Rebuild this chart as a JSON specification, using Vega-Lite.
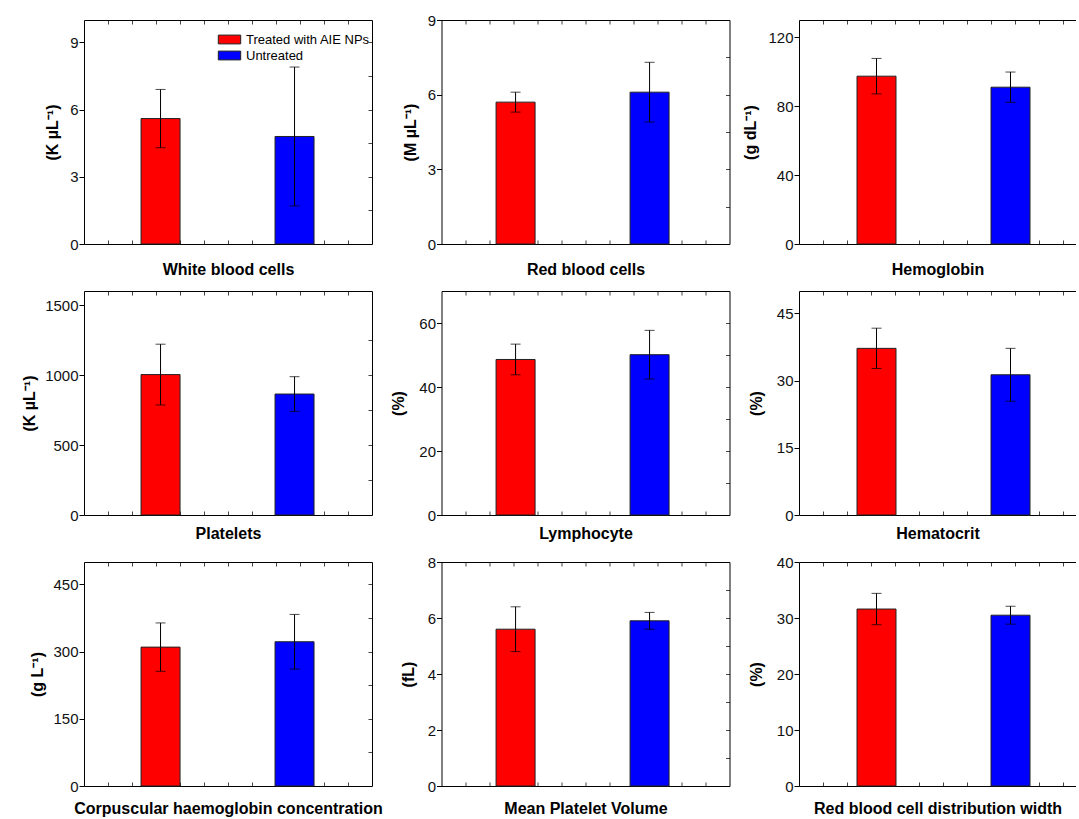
{
  "$schema": "https://vega.github.io/schema/vega-lite/v6.json",
  "padding": {"left": 21, "top": 13, "right": 0, "bottom": 0},
  "config": {
    "view": {"stroke": null},
    "font": "Liberation Sans",
    "axis": {"grid": false, "domainColor": "#000", "tickColor": "#000", "labelFont": "Liberation Sans", "labelFontSize": 15, "labelColor": "#111", "titleFont": "Liberation Sans", "titleFontSize": 16, "titleFontWeight": "bold", "titleColor": "#000", "domainWidth": 1, "tickWidth": 1, "tickSize": 5, "labelPadding": 1, "titlePadding": 9},
    "legend": {"labelFont": "Liberation Sans"}
  },
  "data": {"values": [
    {"panel": "White blood cells", "group": "Treated with AIE NPs", "mean": 5.6, "lo": 4.3, "hi": 6.9},
    {"panel": "White blood cells", "group": "Untreated", "mean": 4.8, "lo": 1.7, "hi": 7.9},
    {"panel": "Red blood cells", "group": "Treated with AIE NPs", "mean": 5.7, "lo": 5.3, "hi": 6.1},
    {"panel": "Red blood cells", "group": "Untreated", "mean": 6.1, "lo": 4.9, "hi": 7.3},
    {"panel": "Hemoglobin", "group": "Treated with AIE NPs", "mean": 97.4, "lo": 87.1, "hi": 107.7},
    {"panel": "Hemoglobin", "group": "Untreated", "mean": 91.0, "lo": 82.2, "hi": 99.8},
    {"panel": "Platelets", "group": "Treated with AIE NPs", "mean": 1003, "lo": 786, "hi": 1220},
    {"panel": "Platelets", "group": "Untreated", "mean": 864, "lo": 740, "hi": 988},
    {"panel": "Lymphocyte", "group": "Treated with AIE NPs", "mean": 48.6, "lo": 43.8, "hi": 53.4},
    {"panel": "Lymphocyte", "group": "Untreated", "mean": 50.1, "lo": 42.5, "hi": 57.7},
    {"panel": "Hematocrit", "group": "Treated with AIE NPs", "mean": 37.2, "lo": 32.7, "hi": 41.7},
    {"panel": "Hematocrit", "group": "Untreated", "mean": 31.3, "lo": 25.4, "hi": 37.2},
    {"panel": "Corpuscular haemoglobin concentration", "group": "Treated with AIE NPs", "mean": 310, "lo": 256, "hi": 364},
    {"panel": "Corpuscular haemoglobin concentration", "group": "Untreated", "mean": 322, "lo": 261, "hi": 383},
    {"panel": "Mean Platelet Volume", "group": "Treated with AIE NPs", "mean": 5.6, "lo": 4.8, "hi": 6.4},
    {"panel": "Mean Platelet Volume", "group": "Untreated", "mean": 5.9, "lo": 5.6, "hi": 6.2},
    {"panel": "Red blood cell distribution width", "group": "Treated with AIE NPs", "mean": 31.6, "lo": 28.8, "hi": 34.4},
    {"panel": "Red blood cell distribution width", "group": "Untreated", "mean": 30.5, "lo": 28.9, "hi": 32.1}
  ]},
  "columns": 3,
  "bounds": "flush",
  "spacing": {"row": 47, "column": 69.5},
  "resolve": {"scale": {"color": "independent"}, "legend": {"color": "independent"}},
  "concat": [
    {
      "width": 288, "height": 224,
      "transform": [{"filter": "datum.panel === 'White blood cells'"}],
      "layer": [
        {"mark": {"type": "bar", "size": 39, "stroke": "#222", "strokeWidth": 1},
         "encoding": {
           "x": {"field": "group", "type": "nominal", "scale": {"type": "point", "domain": ["Treated with AIE NPs", "Untreated"], "padding": 0.5746, "align": 0.497}, "axis": null},
           "y": {"field": "mean", "type": "quantitative", "scale": {"domain": [0, 10]}, "axis": {"values": [0, 3, 6, 9], "title": "(K µL⁻¹)"}},
           "color": {"field": "group", "type": "nominal", "scale": {"domain": ["Treated with AIE NPs", "Untreated"], "range": ["#ff0000", "#0000ff"]},
             "legend": {"orient": "none", "legendX": 137, "legendY": 11, "title": null, "symbolType": "M-1.4,-0.55H1.4V0.55H-1.4Z", "symbolSize": 256, "symbolStrokeColor": "#222", "symbolStrokeWidth": 1, "symbolOpacity": 1, "labelFontSize": 13, "labelColor": "#000", "labelOffset": 8, "rowPadding": 0, "padding": 0, "labelLimit": 300}}
         }},
        {"mark": {"type": "rule", "color": "#000", "strokeWidth": 1},
         "encoding": {"x": {"field": "group", "type": "nominal", "scale": {"type": "point", "domain": ["Treated with AIE NPs", "Untreated"], "padding": 0.5746, "align": 0.497}, "axis": null}, "y": {"field": "lo", "type": "quantitative", "axis": null}, "y2": {"field": "hi"}}},
        {"mark": {"type": "tick", "orient": "horizontal", "size": 10, "thickness": 1, "color": "#000"},
         "encoding": {"x": {"field": "group", "type": "nominal", "scale": {"type": "point", "domain": ["Treated with AIE NPs", "Untreated"], "padding": 0.5746, "align": 0.497}, "axis": null}, "y": {"field": "lo", "type": "quantitative", "axis": null}}},
        {"mark": {"type": "tick", "orient": "horizontal", "size": 10, "thickness": 1, "color": "#000"},
         "encoding": {"x": {"field": "group", "type": "nominal", "scale": {"type": "point", "domain": ["Treated with AIE NPs", "Untreated"], "padding": 0.5746, "align": 0.497}, "axis": null}, "y": {"field": "hi", "type": "quantitative", "axis": null}}},
        {"mark": {"type": "point", "opacity": 0},
         "encoding": {
           "x": {"datum": 0, "type": "quantitative", "scale": {"domain": [0, 12]}, "axis": {"orient": "bottom", "values": [1,2,3,4,5,6,7,8,9,10,11], "labels": false, "tickSize": -4, "tickColor": "#444", "title": "White blood cells", "titlePadding": 17}},
           "y": {"datum": 0, "type": "quantitative", "axis": {"orient": "right", "values": [1.5, 3, 4.5, 6, 7.5, 9], "labels": false, "tickSize": -4, "tickColor": "#444", "title": null}}}},
        {"mark": {"type": "point", "opacity": 0},
         "encoding": {
           "x": {"datum": 0, "type": "quantitative", "scale": {"domain": [0, 12]}, "axis": {"orient": "top", "values": [1,2,3,4,5,6,7,8,9,10,11], "labels": false, "tickSize": -4, "tickColor": "#444", "title": null}},
           "y": {"datum": 0, "type": "quantitative", "axis": null}}}
      ],
      "resolve": {"scale": {"x": "independent"}, "axis": {"x": "independent", "y": "independent"}}
    },
    {
      "width": 288, "height": 224,
      "transform": [{"filter": "datum.panel === 'Red blood cells'"}],
      "layer": [
        {"mark": {"type": "bar", "size": 39, "stroke": "#222", "strokeWidth": 1},
         "encoding": {
           "x": {"field": "group", "type": "nominal", "scale": {"type": "point", "domain": ["Treated with AIE NPs", "Untreated"], "padding": 0.5746, "align": 0.481}, "axis": null},
           "y": {"field": "mean", "type": "quantitative", "scale": {"domain": [0, 9]}, "axis": {"values": [0, 3, 6, 9], "title": "(M µL⁻¹)"}},
           "color": {"field": "group", "type": "nominal", "scale": {"domain": ["Treated with AIE NPs", "Untreated"], "range": ["#ff0000", "#0000ff"]}, "legend": null}
         }},
        {"mark": {"type": "rule", "color": "#000", "strokeWidth": 1},
         "encoding": {"x": {"field": "group", "type": "nominal", "scale": {"type": "point", "domain": ["Treated with AIE NPs", "Untreated"], "padding": 0.5746, "align": 0.481}, "axis": null}, "y": {"field": "lo", "type": "quantitative", "axis": null}, "y2": {"field": "hi"}}},
        {"mark": {"type": "tick", "orient": "horizontal", "size": 10, "thickness": 1, "color": "#000"},
         "encoding": {"x": {"field": "group", "type": "nominal", "scale": {"type": "point", "domain": ["Treated with AIE NPs", "Untreated"], "padding": 0.5746, "align": 0.481}, "axis": null}, "y": {"field": "lo", "type": "quantitative", "axis": null}}},
        {"mark": {"type": "tick", "orient": "horizontal", "size": 10, "thickness": 1, "color": "#000"},
         "encoding": {"x": {"field": "group", "type": "nominal", "scale": {"type": "point", "domain": ["Treated with AIE NPs", "Untreated"], "padding": 0.5746, "align": 0.481}, "axis": null}, "y": {"field": "hi", "type": "quantitative", "axis": null}}},
        {"mark": {"type": "point", "opacity": 0},
         "encoding": {
           "x": {"datum": 0, "type": "quantitative", "scale": {"domain": [0, 12]}, "axis": {"orient": "bottom", "values": [1,2,3,4,5,6,7,8,9,10,11], "labels": false, "tickSize": -4, "tickColor": "#444", "title": "Red blood cells", "titlePadding": 17}},
           "y": {"datum": 0, "type": "quantitative", "axis": {"orient": "right", "values": [1.5, 3, 4.5, 6, 7.5], "labels": false, "tickSize": -4, "tickColor": "#444", "title": null}}}},
        {"mark": {"type": "point", "opacity": 0},
         "encoding": {
           "x": {"datum": 0, "type": "quantitative", "scale": {"domain": [0, 12]}, "axis": {"orient": "top", "values": [1,2,3,4,5,6,7,8,9,10,11], "labels": false, "tickSize": -4, "tickColor": "#444", "title": null}},
           "y": {"datum": 0, "type": "quantitative", "axis": null}}}
      ],
      "resolve": {"scale": {"x": "independent"}, "axis": {"x": "independent", "y": "independent"}}
    },
    {
      "width": 277, "height": 224,
      "transform": [{"filter": "datum.panel === 'Hemoglobin'"}],
      "layer": [
        {"mark": {"type": "bar", "size": 39, "stroke": "#222", "strokeWidth": 1},
         "encoding": {
           "x": {"field": "group", "type": "nominal", "scale": {"type": "point", "domain": ["Treated with AIE NPs", "Untreated"], "padding": 0.5336, "align": 0.542}, "axis": null},
           "y": {"field": "mean", "type": "quantitative", "scale": {"domain": [0, 130]}, "axis": {"values": [0, 40, 80, 120], "title": "(g dL⁻¹)"}},
           "color": {"field": "group", "type": "nominal", "scale": {"domain": ["Treated with AIE NPs", "Untreated"], "range": ["#ff0000", "#0000ff"]}, "legend": null}
         }},
        {"mark": {"type": "rule", "color": "#000", "strokeWidth": 1},
         "encoding": {"x": {"field": "group", "type": "nominal", "scale": {"type": "point", "domain": ["Treated with AIE NPs", "Untreated"], "padding": 0.5336, "align": 0.542}, "axis": null}, "y": {"field": "lo", "type": "quantitative", "axis": null}, "y2": {"field": "hi"}}},
        {"mark": {"type": "tick", "orient": "horizontal", "size": 10, "thickness": 1, "color": "#000"},
         "encoding": {"x": {"field": "group", "type": "nominal", "scale": {"type": "point", "domain": ["Treated with AIE NPs", "Untreated"], "padding": 0.5336, "align": 0.542}, "axis": null}, "y": {"field": "lo", "type": "quantitative", "axis": null}}},
        {"mark": {"type": "tick", "orient": "horizontal", "size": 10, "thickness": 1, "color": "#000"},
         "encoding": {"x": {"field": "group", "type": "nominal", "scale": {"type": "point", "domain": ["Treated with AIE NPs", "Untreated"], "padding": 0.5336, "align": 0.542}, "axis": null}, "y": {"field": "hi", "type": "quantitative", "axis": null}}},
        {"mark": {"type": "point", "opacity": 0},
         "encoding": {
           "x": {"datum": 0, "type": "quantitative", "scale": {"domain": [0, 11.5417]}, "axis": {"orient": "bottom", "values": [1,2,3,4,5,6,7,8,9,10,11], "labels": false, "tickSize": -4, "tickColor": "#444", "title": "Hemoglobin", "titlePadding": 17}},
           "y": {"datum": 0, "type": "quantitative", "axis": null}}},
        {"mark": {"type": "point", "opacity": 0},
         "encoding": {
           "x": {"datum": 0, "type": "quantitative", "scale": {"domain": [0, 11.5417]}, "axis": {"orient": "top", "values": [1,2,3,4,5,6,7,8,9,10,11], "labels": false, "tickSize": -4, "tickColor": "#444", "title": null}},
           "y": {"datum": 0, "type": "quantitative", "axis": null}}}
      ],
      "resolve": {"scale": {"x": "independent"}, "axis": {"x": "independent", "y": "independent"}}
    },
    {
      "width": 288, "height": 224,
      "transform": [{"filter": "datum.panel === 'Platelets'"}],
      "layer": [
        {"mark": {"type": "bar", "size": 39, "stroke": "#222", "strokeWidth": 1},
         "encoding": {
           "x": {"field": "group", "type": "nominal", "scale": {"type": "point", "domain": ["Treated with AIE NPs", "Untreated"], "padding": 0.5746, "align": 0.497}, "axis": null},
           "y": {"field": "mean", "type": "quantitative", "scale": {"domain": [0, 1500]}, "axis": {"values": [0, 500, 1000, 1500], "format": "d", "title": "(K µL⁻¹)", "titlePadding": 7}},
           "color": {"field": "group", "type": "nominal", "scale": {"domain": ["Treated with AIE NPs", "Untreated"], "range": ["#ff0000", "#0000ff"]}, "legend": null}
         }},
        {"mark": {"type": "rule", "color": "#000", "strokeWidth": 1},
         "encoding": {"x": {"field": "group", "type": "nominal", "scale": {"type": "point", "domain": ["Treated with AIE NPs", "Untreated"], "padding": 0.5746, "align": 0.497}, "axis": null}, "y": {"field": "lo", "type": "quantitative", "axis": null}, "y2": {"field": "hi"}}},
        {"mark": {"type": "tick", "orient": "horizontal", "size": 10, "thickness": 1, "color": "#000"},
         "encoding": {"x": {"field": "group", "type": "nominal", "scale": {"type": "point", "domain": ["Treated with AIE NPs", "Untreated"], "padding": 0.5746, "align": 0.497}, "axis": null}, "y": {"field": "lo", "type": "quantitative", "axis": null}}},
        {"mark": {"type": "tick", "orient": "horizontal", "size": 10, "thickness": 1, "color": "#000"},
         "encoding": {"x": {"field": "group", "type": "nominal", "scale": {"type": "point", "domain": ["Treated with AIE NPs", "Untreated"], "padding": 0.5746, "align": 0.497}, "axis": null}, "y": {"field": "hi", "type": "quantitative", "axis": null}}},
        {"mark": {"type": "point", "opacity": 0},
         "encoding": {
           "x": {"datum": 0, "type": "quantitative", "scale": {"domain": [0, 12]}, "axis": {"orient": "bottom", "values": [1,2,3,4,5,6,7,8,9,10,11], "labels": false, "tickSize": -4, "tickColor": "#444", "title": "Platelets", "titlePadding": 10}},
           "y": {"datum": 0, "type": "quantitative", "axis": {"orient": "right", "values": [250, 500, 750, 1000, 1250], "labels": false, "tickSize": -4, "tickColor": "#444", "title": null}}}},
        {"mark": {"type": "point", "opacity": 0},
         "encoding": {
           "x": {"datum": 0, "type": "quantitative", "scale": {"domain": [0, 12]}, "axis": {"orient": "top", "values": [1,2,3,4,5,6,7,8,9,10,11], "labels": false, "tickSize": -4, "tickColor": "#444", "title": null}},
           "y": {"datum": 0, "type": "quantitative", "axis": null}}}
      ],
      "resolve": {"scale": {"x": "independent"}, "axis": {"x": "independent", "y": "independent"}}
    },
    {
      "width": 288, "height": 224,
      "transform": [{"filter": "datum.panel === 'Lymphocyte'"}],
      "layer": [
        {"mark": {"type": "bar", "size": 39, "stroke": "#222", "strokeWidth": 1},
         "encoding": {
           "x": {"field": "group", "type": "nominal", "scale": {"type": "point", "domain": ["Treated with AIE NPs", "Untreated"], "padding": 0.5746, "align": 0.481}, "axis": null},
           "y": {"field": "mean", "type": "quantitative", "scale": {"domain": [0, 70]}, "axis": {"values": [0, 20, 40, 60], "title": "(%)", "titlePadding": 12}},
           "color": {"field": "group", "type": "nominal", "scale": {"domain": ["Treated with AIE NPs", "Untreated"], "range": ["#ff0000", "#0000ff"]}, "legend": null}
         }},
        {"mark": {"type": "rule", "color": "#000", "strokeWidth": 1},
         "encoding": {"x": {"field": "group", "type": "nominal", "scale": {"type": "point", "domain": ["Treated with AIE NPs", "Untreated"], "padding": 0.5746, "align": 0.481}, "axis": null}, "y": {"field": "lo", "type": "quantitative", "axis": null}, "y2": {"field": "hi"}}},
        {"mark": {"type": "tick", "orient": "horizontal", "size": 10, "thickness": 1, "color": "#000"},
         "encoding": {"x": {"field": "group", "type": "nominal", "scale": {"type": "point", "domain": ["Treated with AIE NPs", "Untreated"], "padding": 0.5746, "align": 0.481}, "axis": null}, "y": {"field": "lo", "type": "quantitative", "axis": null}}},
        {"mark": {"type": "tick", "orient": "horizontal", "size": 10, "thickness": 1, "color": "#000"},
         "encoding": {"x": {"field": "group", "type": "nominal", "scale": {"type": "point", "domain": ["Treated with AIE NPs", "Untreated"], "padding": 0.5746, "align": 0.481}, "axis": null}, "y": {"field": "hi", "type": "quantitative", "axis": null}}},
        {"mark": {"type": "point", "opacity": 0},
         "encoding": {
           "x": {"datum": 0, "type": "quantitative", "scale": {"domain": [0, 12]}, "axis": {"orient": "bottom", "values": [1,2,3,4,5,6,7,8,9,10,11], "labels": false, "tickSize": -4, "tickColor": "#444", "title": "Lymphocyte", "titlePadding": 10}},
           "y": {"datum": 0, "type": "quantitative", "axis": {"orient": "right", "values": [10, 20, 30, 40, 50, 60], "labels": false, "tickSize": -4, "tickColor": "#444", "title": null}}}},
        {"mark": {"type": "point", "opacity": 0},
         "encoding": {
           "x": {"datum": 0, "type": "quantitative", "scale": {"domain": [0, 12]}, "axis": {"orient": "top", "values": [1,2,3,4,5,6,7,8,9,10,11], "labels": false, "tickSize": -4, "tickColor": "#444", "title": null}},
           "y": {"datum": 0, "type": "quantitative", "axis": null}}}
      ],
      "resolve": {"scale": {"x": "independent"}, "axis": {"x": "independent", "y": "independent"}}
    },
    {
      "width": 277, "height": 224,
      "transform": [{"filter": "datum.panel === 'Hematocrit'"}],
      "layer": [
        {"mark": {"type": "bar", "size": 39, "stroke": "#222", "strokeWidth": 1},
         "encoding": {
           "x": {"field": "group", "type": "nominal", "scale": {"type": "point", "domain": ["Treated with AIE NPs", "Untreated"], "padding": 0.5336, "align": 0.542}, "axis": null},
           "y": {"field": "mean", "type": "quantitative", "scale": {"domain": [0, 50]}, "axis": {"values": [0, 15, 30, 45], "title": "(%)", "titlePadding": 12}},
           "color": {"field": "group", "type": "nominal", "scale": {"domain": ["Treated with AIE NPs", "Untreated"], "range": ["#ff0000", "#0000ff"]}, "legend": null}
         }},
        {"mark": {"type": "rule", "color": "#000", "strokeWidth": 1},
         "encoding": {"x": {"field": "group", "type": "nominal", "scale": {"type": "point", "domain": ["Treated with AIE NPs", "Untreated"], "padding": 0.5336, "align": 0.542}, "axis": null}, "y": {"field": "lo", "type": "quantitative", "axis": null}, "y2": {"field": "hi"}}},
        {"mark": {"type": "tick", "orient": "horizontal", "size": 10, "thickness": 1, "color": "#000"},
         "encoding": {"x": {"field": "group", "type": "nominal", "scale": {"type": "point", "domain": ["Treated with AIE NPs", "Untreated"], "padding": 0.5336, "align": 0.542}, "axis": null}, "y": {"field": "lo", "type": "quantitative", "axis": null}}},
        {"mark": {"type": "tick", "orient": "horizontal", "size": 10, "thickness": 1, "color": "#000"},
         "encoding": {"x": {"field": "group", "type": "nominal", "scale": {"type": "point", "domain": ["Treated with AIE NPs", "Untreated"], "padding": 0.5336, "align": 0.542}, "axis": null}, "y": {"field": "hi", "type": "quantitative", "axis": null}}},
        {"mark": {"type": "point", "opacity": 0},
         "encoding": {
           "x": {"datum": 0, "type": "quantitative", "scale": {"domain": [0, 11.5417]}, "axis": {"orient": "bottom", "values": [1,2,3,4,5,6,7,8,9,10,11], "labels": false, "tickSize": -4, "tickColor": "#444", "title": "Hematocrit", "titlePadding": 10}},
           "y": {"datum": 0, "type": "quantitative", "axis": null}}},
        {"mark": {"type": "point", "opacity": 0},
         "encoding": {
           "x": {"datum": 0, "type": "quantitative", "scale": {"domain": [0, 11.5417]}, "axis": {"orient": "top", "values": [1,2,3,4,5,6,7,8,9,10,11], "labels": false, "tickSize": -4, "tickColor": "#444", "title": null}},
           "y": {"datum": 0, "type": "quantitative", "axis": null}}}
      ],
      "resolve": {"scale": {"x": "independent"}, "axis": {"x": "independent", "y": "independent"}}
    },
    {
      "width": 288, "height": 224,
      "transform": [{"filter": "datum.panel === 'Corpuscular haemoglobin concentration'"}],
      "layer": [
        {"mark": {"type": "bar", "size": 39, "stroke": "#222", "strokeWidth": 1},
         "encoding": {
           "x": {"field": "group", "type": "nominal", "scale": {"type": "point", "domain": ["Treated with AIE NPs", "Untreated"], "padding": 0.5746, "align": 0.497}, "axis": null},
           "y": {"field": "mean", "type": "quantitative", "scale": {"domain": [0, 500]}, "axis": {"values": [0, 150, 300, 450], "title": "(g L⁻¹)", "titlePadding": 7}},
           "color": {"field": "group", "type": "nominal", "scale": {"domain": ["Treated with AIE NPs", "Untreated"], "range": ["#ff0000", "#0000ff"]}, "legend": null}
         }},
        {"mark": {"type": "rule", "color": "#000", "strokeWidth": 1},
         "encoding": {"x": {"field": "group", "type": "nominal", "scale": {"type": "point", "domain": ["Treated with AIE NPs", "Untreated"], "padding": 0.5746, "align": 0.497}, "axis": null}, "y": {"field": "lo", "type": "quantitative", "axis": null}, "y2": {"field": "hi"}}},
        {"mark": {"type": "tick", "orient": "horizontal", "size": 10, "thickness": 1, "color": "#000"},
         "encoding": {"x": {"field": "group", "type": "nominal", "scale": {"type": "point", "domain": ["Treated with AIE NPs", "Untreated"], "padding": 0.5746, "align": 0.497}, "axis": null}, "y": {"field": "lo", "type": "quantitative", "axis": null}}},
        {"mark": {"type": "tick", "orient": "horizontal", "size": 10, "thickness": 1, "color": "#000"},
         "encoding": {"x": {"field": "group", "type": "nominal", "scale": {"type": "point", "domain": ["Treated with AIE NPs", "Untreated"], "padding": 0.5746, "align": 0.497}, "axis": null}, "y": {"field": "hi", "type": "quantitative", "axis": null}}},
        {"mark": {"type": "point", "opacity": 0},
         "encoding": {
           "x": {"datum": 0, "type": "quantitative", "scale": {"domain": [0, 12]}, "axis": {"orient": "bottom", "values": [1,2,3,4,5,6,7,8,9,10,11], "labels": false, "tickSize": -4, "tickColor": "#444", "title": "Corpuscular haemoglobin concentration", "titlePadding": 14}},
           "y": {"datum": 0, "type": "quantitative", "axis": {"orient": "right", "values": [75, 150, 225, 300, 375, 450], "labels": false, "tickSize": -4, "tickColor": "#444", "title": null}}}},
        {"mark": {"type": "point", "opacity": 0},
         "encoding": {
           "x": {"datum": 0, "type": "quantitative", "scale": {"domain": [0, 12]}, "axis": {"orient": "top", "values": [1,2,3,4,5,6,7,8,9,10,11], "labels": false, "tickSize": -4, "tickColor": "#444", "title": null}},
           "y": {"datum": 0, "type": "quantitative", "axis": null}}}
      ],
      "resolve": {"scale": {"x": "independent"}, "axis": {"x": "independent", "y": "independent"}}
    },
    {
      "width": 288, "height": 224,
      "transform": [{"filter": "datum.panel === 'Mean Platelet Volume'"}],
      "layer": [
        {"mark": {"type": "bar", "size": 39, "stroke": "#222", "strokeWidth": 1},
         "encoding": {
           "x": {"field": "group", "type": "nominal", "scale": {"type": "point", "domain": ["Treated with AIE NPs", "Untreated"], "padding": 0.5746, "align": 0.481}, "axis": null},
           "y": {"field": "mean", "type": "quantitative", "scale": {"domain": [0, 8]}, "axis": {"values": [0, 2, 4, 6, 8], "title": "(fL)", "titlePadding": 11}},
           "color": {"field": "group", "type": "nominal", "scale": {"domain": ["Treated with AIE NPs", "Untreated"], "range": ["#ff0000", "#0000ff"]}, "legend": null}
         }},
        {"mark": {"type": "rule", "color": "#000", "strokeWidth": 1},
         "encoding": {"x": {"field": "group", "type": "nominal", "scale": {"type": "point", "domain": ["Treated with AIE NPs", "Untreated"], "padding": 0.5746, "align": 0.481}, "axis": null}, "y": {"field": "lo", "type": "quantitative", "axis": null}, "y2": {"field": "hi"}}},
        {"mark": {"type": "tick", "orient": "horizontal", "size": 10, "thickness": 1, "color": "#000"},
         "encoding": {"x": {"field": "group", "type": "nominal", "scale": {"type": "point", "domain": ["Treated with AIE NPs", "Untreated"], "padding": 0.5746, "align": 0.481}, "axis": null}, "y": {"field": "lo", "type": "quantitative", "axis": null}}},
        {"mark": {"type": "tick", "orient": "horizontal", "size": 10, "thickness": 1, "color": "#000"},
         "encoding": {"x": {"field": "group", "type": "nominal", "scale": {"type": "point", "domain": ["Treated with AIE NPs", "Untreated"], "padding": 0.5746, "align": 0.481}, "axis": null}, "y": {"field": "hi", "type": "quantitative", "axis": null}}},
        {"mark": {"type": "point", "opacity": 0},
         "encoding": {
           "x": {"datum": 0, "type": "quantitative", "scale": {"domain": [0, 12]}, "axis": {"orient": "bottom", "values": [1,2,3,4,5,6,7,8,9,10,11], "labels": false, "tickSize": -4, "tickColor": "#444", "title": "Mean Platelet Volume", "titlePadding": 14}},
           "y": {"datum": 0, "type": "quantitative", "axis": {"orient": "right", "values": [1, 2, 3, 4, 5, 6, 7], "labels": false, "tickSize": -4, "tickColor": "#444", "title": null}}}},
        {"mark": {"type": "point", "opacity": 0},
         "encoding": {
           "x": {"datum": 0, "type": "quantitative", "scale": {"domain": [0, 12]}, "axis": {"orient": "top", "values": [1,2,3,4,5,6,7,8,9,10,11], "labels": false, "tickSize": -4, "tickColor": "#444", "title": null}},
           "y": {"datum": 0, "type": "quantitative", "axis": null}}}
      ],
      "resolve": {"scale": {"x": "independent"}, "axis": {"x": "independent", "y": "independent"}}
    },
    {
      "width": 277, "height": 224,
      "transform": [{"filter": "datum.panel === 'Red blood cell distribution width'"}],
      "layer": [
        {"mark": {"type": "bar", "size": 39, "stroke": "#222", "strokeWidth": 1},
         "encoding": {
           "x": {"field": "group", "type": "nominal", "scale": {"type": "point", "domain": ["Treated with AIE NPs", "Untreated"], "padding": 0.5336, "align": 0.542}, "axis": null},
           "y": {"field": "mean", "type": "quantitative", "scale": {"domain": [0, 40]}, "axis": {"values": [0, 10, 20, 30, 40], "title": "(%)", "titlePadding": 12}},
           "color": {"field": "group", "type": "nominal", "scale": {"domain": ["Treated with AIE NPs", "Untreated"], "range": ["#ff0000", "#0000ff"]}, "legend": null}
         }},
        {"mark": {"type": "rule", "color": "#000", "strokeWidth": 1},
         "encoding": {"x": {"field": "group", "type": "nominal", "scale": {"type": "point", "domain": ["Treated with AIE NPs", "Untreated"], "padding": 0.5336, "align": 0.542}, "axis": null}, "y": {"field": "lo", "type": "quantitative", "axis": null}, "y2": {"field": "hi"}}},
        {"mark": {"type": "tick", "orient": "horizontal", "size": 10, "thickness": 1, "color": "#000"},
         "encoding": {"x": {"field": "group", "type": "nominal", "scale": {"type": "point", "domain": ["Treated with AIE NPs", "Untreated"], "padding": 0.5336, "align": 0.542}, "axis": null}, "y": {"field": "lo", "type": "quantitative", "axis": null}}},
        {"mark": {"type": "tick", "orient": "horizontal", "size": 10, "thickness": 1, "color": "#000"},
         "encoding": {"x": {"field": "group", "type": "nominal", "scale": {"type": "point", "domain": ["Treated with AIE NPs", "Untreated"], "padding": 0.5336, "align": 0.542}, "axis": null}, "y": {"field": "hi", "type": "quantitative", "axis": null}}},
        {"mark": {"type": "point", "opacity": 0},
         "encoding": {
           "x": {"datum": 0, "type": "quantitative", "scale": {"domain": [0, 11.5417]}, "axis": {"orient": "bottom", "values": [1,2,3,4,5,6,7,8,9,10,11], "labels": false, "tickSize": -4, "tickColor": "#444", "title": "Red blood cell distribution width", "titlePadding": 14}},
           "y": {"datum": 0, "type": "quantitative", "axis": null}}},
        {"mark": {"type": "point", "opacity": 0},
         "encoding": {
           "x": {"datum": 0, "type": "quantitative", "scale": {"domain": [0, 11.5417]}, "axis": {"orient": "top", "values": [1,2,3,4,5,6,7,8,9,10,11], "labels": false, "tickSize": -4, "tickColor": "#444", "title": null}},
           "y": {"datum": 0, "type": "quantitative", "axis": null}}}
      ],
      "resolve": {"scale": {"x": "independent"}, "axis": {"x": "independent", "y": "independent"}}
    }
  ]
}
